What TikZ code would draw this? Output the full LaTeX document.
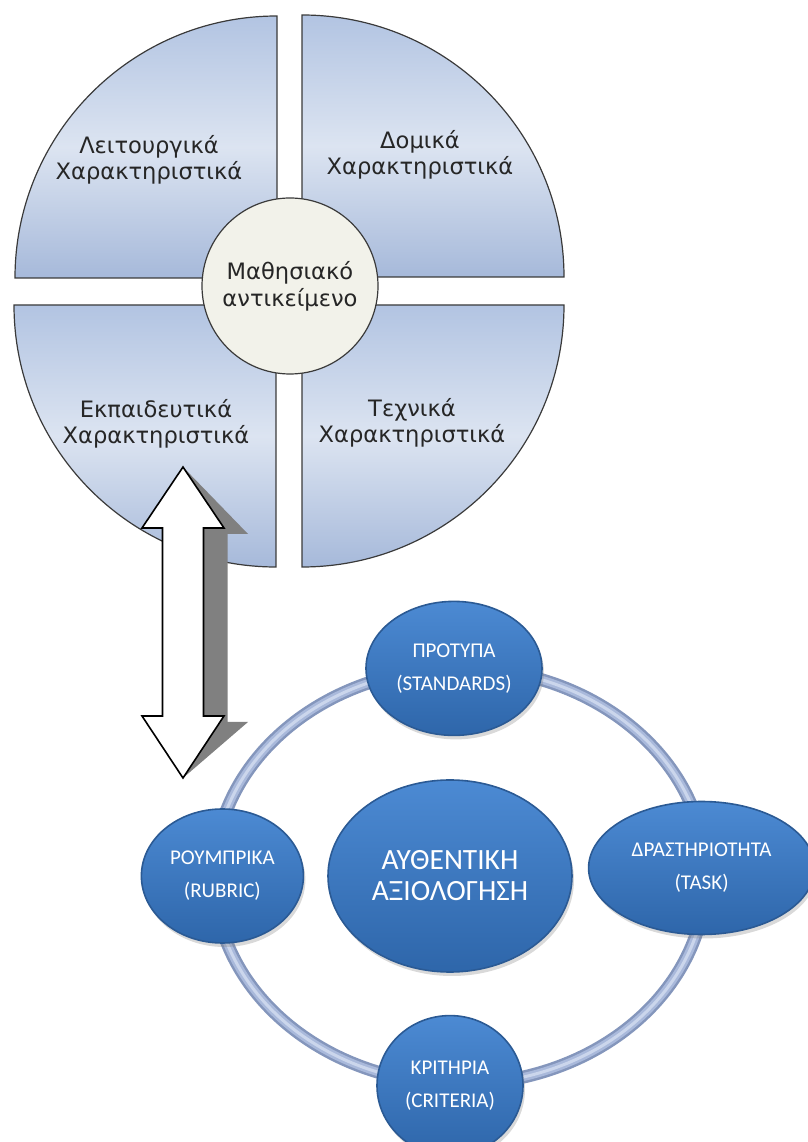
\documentclass[tikz,border=0pt]{standalone}
\usepackage{fontspec}
\newfontfamily\gothicfont{DejaVu Sans}
\newfontfamily\calfont{Carlito}
\usetikzlibrary{positioning, shapes.geometric, shadows}
\usepackage{xcolor}

\definecolor{quadtop}{HTML}{B2C4E2}
\definecolor{quadmid}{HTML}{DCE4F1}
\definecolor{quadbot}{HTML}{A6B9DA}
\definecolor{quadline}{HTML}{3A3A3A}
\definecolor{hubfill}{HTML}{F2F2EA}
\definecolor{bluetop}{HTML}{4C8AD3}
\definecolor{bluebot}{HTML}{2E66AA}
\definecolor{blueline}{HTML}{2B5A94}
\definecolor{ringedge}{HTML}{8496BC}
\definecolor{ringfill}{HTML}{A9B9DB}
\definecolor{ringshine}{HTML}{CBD6EC}
\definecolor{arrowgray}{HTML}{808080}

\begin{document}
\begin{tikzpicture}[
x=0.5pt, y=0.5pt,
quad/.style={draw=quadline, line width=0.6pt,
top color=quadtop, bottom color=quadbot, middle color=quadmid},
quadtext/.style={align=center,
font=\gothicfont\fontsize{11.3}{12.8}\selectfont, text=black!85},
hubnode/.style={circle, draw=quadline, line width=0.6pt, fill=hubfill,
minimum size=88pt, inner sep=0pt, align=center,
font=\gothicfont\fontsize{11.3}{13.5}\selectfont, text=black!85},
bluenode/.style={ellipse, draw=blueline, line width=0.8pt,
top color=bluetop, bottom color=bluebot, inner sep=0pt, align=center,
text=white, font=\calfont\fontsize{10.5}{16.5}\selectfont,
drop shadow={opacity=0.3, shadow xshift=1pt, shadow yshift=-2pt}},
bignode/.style={bluenode, font=\calfont\fontsize{14.7}{15.5}\selectfont}
]
\useasboundingbox (0,0) rectangle (808,1142);

% four quarters
\path[quad] (277,864) -- (15,864) arc[start angle=180, end angle=90, radius=131pt] -- cycle;
\path[quad] (302,865) -- (302,1127) arc[start angle=90, end angle=0, radius=131pt] -- cycle;
\path[quad] (276,837) -- (14,837) arc[start angle=180, end angle=270, radius=131pt] -- cycle;
\path[quad] (302,837) -- (564,837) arc[start angle=0, end angle=-90, radius=131pt] -- cycle;

\node[quadtext] (func) at (149,982) {Λειτουργικά\\Χαρακτηριστικά};
\node[quadtext] (struct) at (420,987) {Δομικά\\Χαρακτηριστικά};
\node[quadtext] (edu) at (156,718) {Εκπαιδευτικά\\Χαρακτηριστικά};
\node[quadtext] (tech) at (412,719) {Τεχνικά\\Χαρακτηριστικά};

\node[hubnode] (hub) at (290,856) {Μαθησιακό\\αντικείμενο};

% ring
\coordinate (ringc) at (460,266);
\draw[line width=6.5pt, ringedge] (ringc) ellipse[x radius=123pt, y radius=104pt];
\draw[line width=4pt, ringfill] (ringc) ellipse[x radius=123pt, y radius=104pt];
\draw[line width=1.5pt, ringshine] (ringc) ellipse[x radius=123pt, y radius=104pt];

\node[bignode, minimum width=122pt, minimum height=96pt] (assess) at (450,266) {ΑΥΘΕΝΤΙΚΗ\\ΑΞΙΟΛΟΓΗΣΗ};
\node[bluenode, minimum width=88pt, minimum height=67pt, above=21.5pt of assess, xshift=2pt] (proto) {ΠΡΟΤΥΠΑ\\(STANDARDS)};
\node[bluenode, minimum width=81pt, minimum height=67pt, left=11.5pt of assess] (rubric) {ΡΟΥΜΠΡΙΚΑ\\(RUBRIC)};
\node[bluenode, minimum width=113pt, minimum height=66.5pt, right=7.5pt of assess, yshift=4pt] (task) {ΔΡΑΣΤΗΡΙΟΤΗΤΑ\\(TASK)};
\node[bluenode, minimum width=73pt, minimum height=70pt, below=21pt of assess] (crit) {ΚΡΙΤΗΡΙΑ\\(CRITERIA)};

% double arrow between the two parts
\coordinate (arrtop) at (183,675);
\coordinate (arrbot) at (183,364);
\fill[arrowgray, shift={(24,-6)}] (arrtop) -- (224,614) -- (203.5,614) -- (203.5,426) -- (224,426) -- (arrbot) -- (142,426) -- (162.5,426) -- (162.5,614) -- (142,614) -- cycle;
\draw[fill=white, line width=0.8pt] (arrtop) -- (224,614) -- (203.5,614) -- (203.5,426) -- (224,426) -- (arrbot) -- (142,426) -- (162.5,426) -- (162.5,614) -- (142,614) -- cycle;

\end{tikzpicture}
\end{document}
